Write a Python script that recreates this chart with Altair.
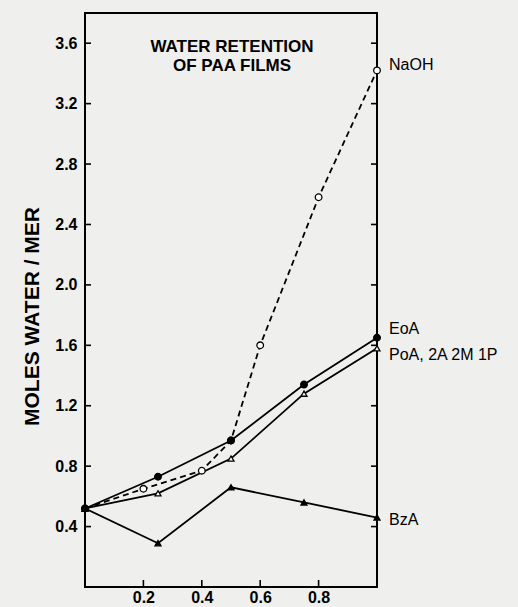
import altair as alt
import pandas as pd

# ---- data ----
naoh_x = [0.0, 0.2, 0.4, 0.5, 0.6, 0.8, 1.0]
naoh_y = [0.52, 0.65, 0.77, 0.97, 1.60, 2.58, 3.42]

eoa_x = [0.0, 0.25, 0.5, 0.75, 1.0]
eoa_y = [0.52, 0.73, 0.97, 1.34, 1.65]

poa_x = [0.0, 0.25, 0.5, 0.75, 1.0]
poa_y = [0.52, 0.62, 0.85, 1.28, 1.58]

bza_x = [0.0, 0.25, 0.5, 0.75, 1.0]
bza_y = [0.52, 0.29, 0.66, 0.56, 0.46]

y_ticks = [0.4, 0.8, 1.2, 1.6, 2.0, 2.4, 2.8, 3.2, 3.6]
x_ticks = [0.2, 0.4, 0.6, 0.8]

title_lines = ["WATER RETENTION", "OF PAA FILMS"]
y_title = "MOLES WATER / MER"

FONT = "Liberation Sans"
BG = "#efefed"

W, H = 292, 574

xscale = alt.Scale(domain=[0, 1], nice=False, zero=False)
yscale = alt.Scale(domain=[0, 3.8], nice=False, zero=False)

xaxis = alt.Axis(values=x_ticks, format=".1f", ticks=False, domain=False, grid=False,
                 labelFont=FONT, labelFontSize=16, labelFontWeight="bold",
                 labelColor="black", labelPadding=2, title=None)
yaxis = alt.Axis(values=y_ticks, format=".1f", ticks=False, domain=False, grid=False,
                 labelFont=FONT, labelFontSize=16, labelFontWeight="bold",
                 labelColor="black", labelPadding=8,
                 title=y_title, titleFont=FONT, titleFontSize=21, titleFontWeight="bold",
                 titleColor="black", titleAngle=270, titleAlign="center",
                 titleBaseline="middle", titleX=-53, titleY=303)


def series(xs, ys, shape, filled, dashed):
    df = pd.DataFrame({"x": xs, "y": ys})
    base = alt.Chart(df)
    line_kw = dict(color="black", strokeWidth=1.8)
    if dashed:
        line_kw["strokeDash"] = [6, 4]
    line = base.mark_line(**line_kw).encode(
        x=alt.X("x:Q", scale=xscale, axis=xaxis),
        y=alt.Y("y:Q", scale=yscale, axis=yaxis),
    )
    pt_kw = dict(shape=shape, size=44 if shape == "circle" else 36, strokeWidth=1.3,
                 stroke="black", filled=True, opacity=1)
    pt_kw["fill"] = "black" if filled else "white"
    pts = base.mark_point(**pt_kw).encode(x="x:Q", y="y:Q")
    return line + pts


lines = (
    series(bza_x, bza_y, "triangle-up", True, False)
    + series(poa_x, poa_y, "triangle-up", False, False)
    + series(naoh_x, naoh_y, "circle", False, True)
    + series(eoa_x, eoa_y, "circle", True, False)
)


def label(text, xv, yv, dy):
    df = pd.DataFrame({"x": [xv], "y": [yv], "t": [text]})
    return alt.Chart(df).mark_text(
        align="left", baseline="middle", dx=12, dy=dy, font=FONT, fontSize=16,
        color="black"
    ).encode(x="x:Q", y="y:Q", text="t:N")


labels = (
    label("NaOH", naoh_x[-1], naoh_y[-1], -5)
    + label("EoA", eoa_x[-1], eoa_y[-1], -9)
    + label("PoA, 2A 2M 1P", poa_x[-1], poa_y[-1], 7)
    + label("BzA", bza_x[-1], bza_y[-1], 2)
)

ytick_df = pd.DataFrame({"v": y_ticks})
xtick_df = pd.DataFrame({"v": x_ticks})

left_ticks = alt.Chart(ytick_df).mark_rule(color="black", strokeWidth=1.6).encode(
    y=alt.Y("v:Q", scale=yscale), x=alt.value(0), x2=alt.value(6))
right_ticks = alt.Chart(ytick_df).mark_rule(color="black", strokeWidth=1.6).encode(
    y=alt.Y("v:Q", scale=yscale), x=alt.value(W - 6), x2=alt.value(W))
bottom_ticks = alt.Chart(xtick_df).mark_rule(color="black", strokeWidth=1.6).encode(
    x=alt.X("v:Q", scale=xscale), y=alt.value(H), y2=alt.value(H - 7))

title_df = pd.DataFrame({"t": [title_lines]})
title = alt.Chart(title_df).mark_text(
    align="center", baseline="middle", font=FONT, fontSize=17, fontWeight="bold",
    color="black", lineHeight=19
).encode(x=alt.value(147), y=alt.value(34), text="t")

chart = (
    alt.layer(lines, labels, left_ticks, right_ticks, bottom_ticks, title)
    .properties(
        width=W, height=H,
        autosize=alt.AutoSizeParams(type="none"),
        padding={"left": 85, "top": 13, "right": 518 - 85 - W, "bottom": 607 - 13 - H},
        background=BG,
    )
    .configure_view(stroke="black", strokeWidth=2, fill=BG)
)

chart.save("out.html", embed_options={"renderer": "svg", "actions": False})
